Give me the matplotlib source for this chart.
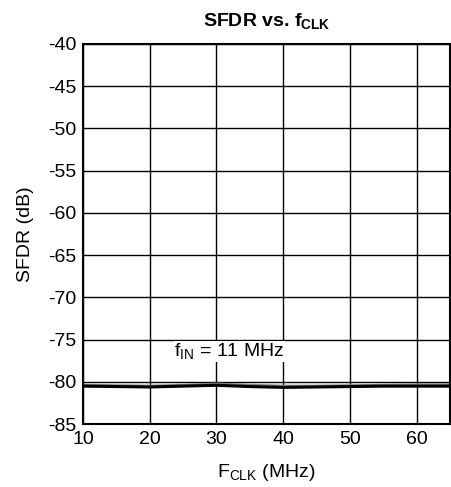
import matplotlib
matplotlib.use("Agg")
import matplotlib.pyplot as plt

plt.rcParams['font.family'] = ['Liberation Sans', 'DejaVu Sans']
plt.rcParams['axes.unicode_minus'] = False

# Data
fclk = [10, 15, 20, 25, 30, 35, 40, 45, 50, 55, 60, 65]
sfdr_a = [-80.35, -80.4, -80.45, -80.35, -80.2, -80.35, -80.45, -80.45, -80.4, -80.35, -80.3, -80.3]
sfdr_b = [-80.5, -80.55, -80.6, -80.5, -80.4, -80.55, -80.65, -80.6, -80.55, -80.5, -80.5, -80.5]

fig = plt.figure(figsize=(4.51, 4.87), dpi=100)
ax = fig.add_axes([0.184, 0.129, 0.814, 0.781])

ax.plot(fclk, sfdr_a, color='#808080', lw=1.5)
ax.plot(fclk, sfdr_b, color='black', lw=2.2)

ax.set_xlim(10, 65)
ax.set_ylim(-85, -40)
ax.set_xticks([10, 20, 30, 40, 50, 60])
ax.set_yticks(range(-85, -39, 5))
ax.grid(True, color='black', lw=1)
ax.tick_params(labelsize=14, length=0, pad=5)
for s in ax.spines.values():
    s.set_linewidth(1.5)

ax.text(23.7, -77.0, r'f$_{\mathregular{IN}}$ = 11 MHz', fontsize=14,
        bbox=dict(facecolor='white', edgecolor='none', pad=0.3))

ax.set_title(r'SFDR vs. f$_{\mathregular{CLK}}$', fontsize=14, fontweight='bold', pad=12)
ax.set_xlabel(r'F$_{\mathregular{CLK}}$ (MHz)', fontsize=14, labelpad=10)
ax.set_ylabel('SFDR (dB)', fontsize=14, labelpad=10)

fig.savefig('out.png', dpi=100)
